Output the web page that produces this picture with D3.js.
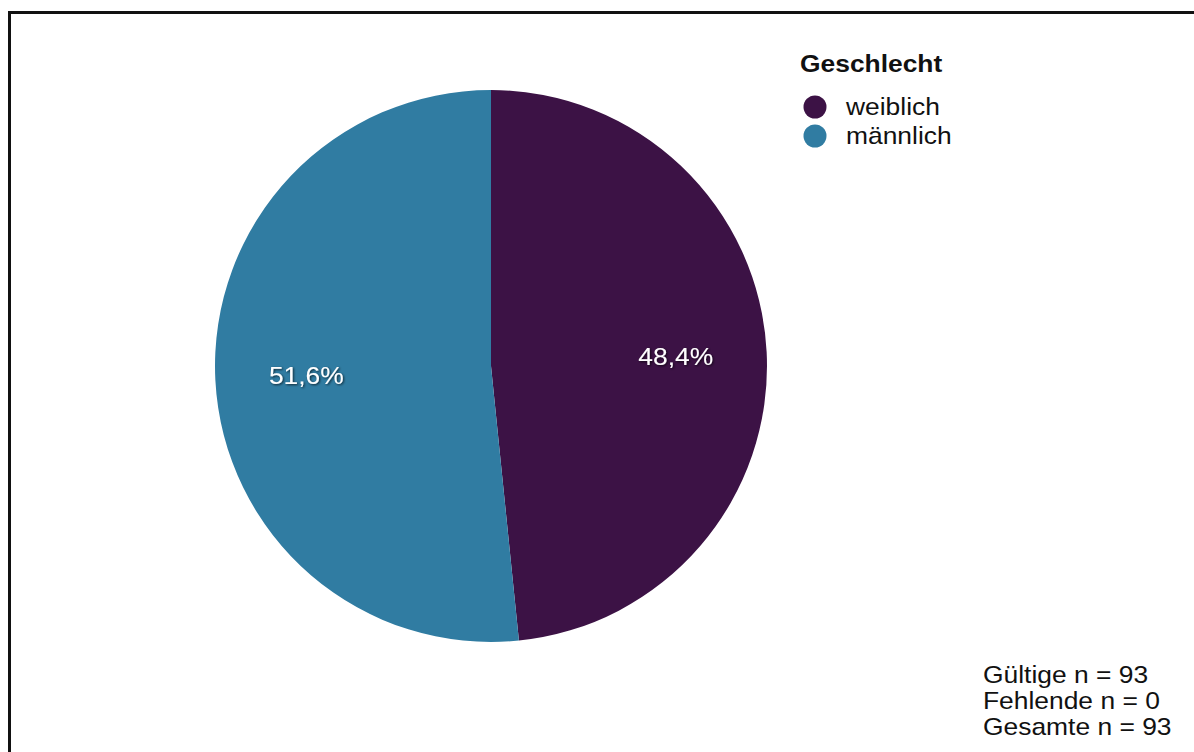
<!DOCTYPE html>
<html>
<head>
<meta charset="utf-8">
<script src="https://cdn.jsdelivr.net/npm/d3@7"></script>
<style>
  body { margin: 0; background: #fff; }
  svg { display: block; font-family: "Liberation Sans", Arial, sans-serif; }
</style>
</head>
<body>
<svg id="chart" width="1194" height="752"></svg>
<script>
// data
const categories = ["weiblich", "männlich"];
const counts = [45, 48];
const colors = ["#3c1245", "#307ca2"];
const legendTitle = "Geschlecht";
const footLines = ["Gültige n = 93", "Fehlende n = 0", "Gesamte n = 93"];

const svg = d3.select("#chart");
const sx = 1.1; // the reference text is a bit wide

// shadow for the slice labels
const defs = svg.append("defs");
const f = defs.append("filter").attr("id", "shadow").attr("x", "-20%").attr("y", "-20%").attr("width", "140%").attr("height", "140%");
f.append("feDropShadow").attr("dx", 1).attr("dy", 1).attr("stdDeviation", 1.2).attr("flood-color", "#000").attr("flood-opacity", 0.7);

// frame
svg.append("rect")
    .attr("x", 9.5).attr("y", 12.5)
    .attr("width", 1300).attr("height", 900)
    .attr("fill", "none").attr("stroke", "#111").attr("stroke-width", 3);

const cx = 491, cy = 366, r = 276;
const total = d3.sum(counts);
const data = categories.map((c, i) => ({cat: c, n: counts[i], color: colors[i]}));

const pie = d3.pie().value(d => d.n).sort(null);
const arc = d3.arc().innerRadius(0).outerRadius(r);
const labelArc = d3.arc().innerRadius(r * 0.67).outerRadius(r * 0.67);

const g = svg.append("g").attr("transform", `translate(${cx},${cy})`);
const arcs = pie(data);

g.selectAll("path")
    .data(arcs)
    .join("path")
    .attr("d", arc)
    .attr("fill", d => d.data.color);

const fmt = v => d3.format(".1f")(v).replace(".", ",") + "%";

g.selectAll("text")
    .data(arcs)
    .join("text")
    .attr("transform", d => `translate(${labelArc.centroid(d)}) scale(${sx},1)`)
    .attr("text-anchor", "middle")
    .attr("dy", "0.35em")
    .attr("fill", "#fff")
    .attr("font-size", 24)
    .attr("filter", "url(#shadow)")
    .text(d => fmt(d.data.n / total * 100));

// legend
const leg = svg.append("g").attr("transform", "translate(800,0)");
leg.append("text")
    .attr("transform", `translate(0,72) scale(${sx},1)`)
    .attr("font-size", 24).attr("font-weight", "bold").attr("fill", "#111")
    .text(legendTitle);

const item = leg.selectAll("g.item")
    .data(data)
    .join("g")
    .attr("class", "item")
    .attr("transform", (d, i) => `translate(0,${107 + i * 29})`);
item.append("circle").attr("cx", 15).attr("cy", 0).attr("r", 11.5).attr("fill", d => d.color);
item.append("text")
    .attr("transform", `translate(46,0) scale(${sx},1)`)
    .attr("dy", "0.35em")
    .attr("font-size", 24).attr("fill", "#111")
    .text(d => d.cat);

// sample size notes
svg.append("g")
    .selectAll("text")
    .data(footLines)
    .join("text")
    .attr("transform", (d, i) => `translate(983,${683 + i * 26}) scale(${sx},1)`)
    .attr("font-size", 24).attr("fill", "#111")
    .text(d => d);
</script>
</body>
</html>
